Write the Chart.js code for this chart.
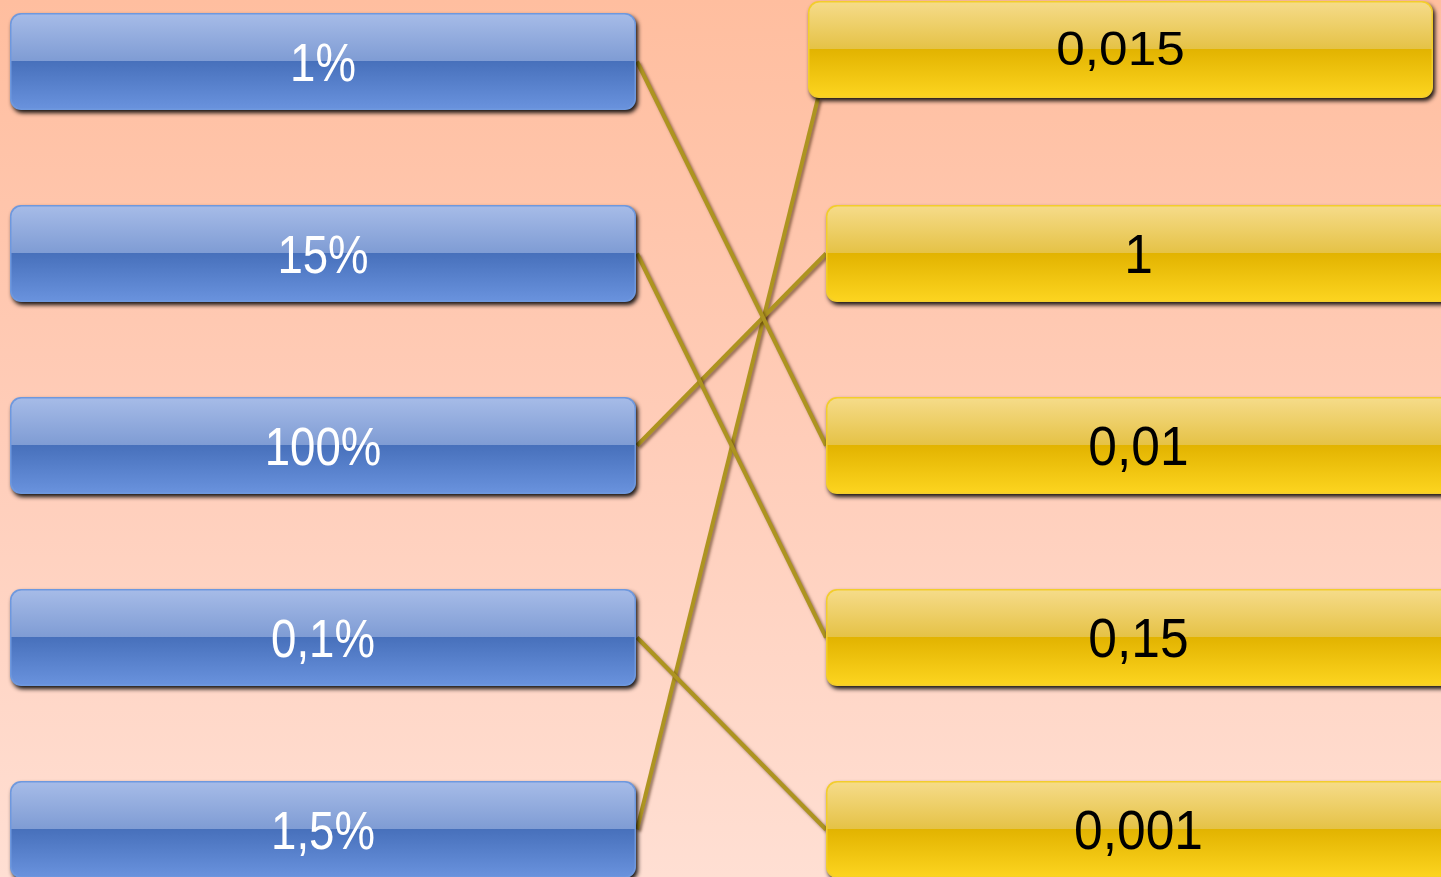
<!DOCTYPE html>
<html><head><meta charset="utf-8">
<style>
html,body{margin:0;padding:0;overflow:hidden;background:#ffd0bc}
#wrap{position:absolute;left:0;top:0;width:1441px;height:877px}
</style>
<script src="https://cdn.jsdelivr.net/npm/chart.js@4"></script>
</head><body><div id="wrap"><canvas id="c"></canvas></div>
<script>
// ---- data ----
const leftLabels  = ['1%', '15%', '100%', '0,1%', '1,5%'];
const rightLabels = ['0,015', '1', '0,01', '0,15', '0,001'];
const matches     = [2, 3, 1, 4, 0];   // right-hand index matched to each left-hand item

// ---- layout (pixels per row unit = 192) ----
const PX_PER_ROW = 192;
const layout = {
  leftX0: 10, leftX1: 636,
  rightX0: 826, rightX1: 1451,
  boxH: 97,
  lineLeftX: 637, lineRightX: 826,
  rightShift: [[-18, -12], [0, 0], [0, 0], [0, 0], [0, 0]],
  rightAnchor: [[818, 36.5], null, null, null, null]
};

const connectors = matches.map((j, i) => {
  const a = layout.rightAnchor[j];
  return {
    data: [
      { x: layout.lineLeftX, y: i },
      { x: a ? a[0] : layout.lineRightX, y: j + (a ? a[1] / PX_PER_ROW : 0) }
    ],
    showLine: true,
    borderColor: '#ad9420',
    borderWidth: 4,
    pointRadius: 0,
    fill: false
  };
});

function rr(ctx, x, y, w, h, r) {
  ctx.beginPath();
  ctx.moveTo(x + r, y);
  ctx.arcTo(x + w, y, x + w, y + h, r);
  ctx.arcTo(x + w, y + h, x, y + h, r);
  ctx.arcTo(x, y + h, x, y, r);
  ctx.arcTo(x, y, x + w, y, r);
  ctx.closePath();
}

const blue = { border: '#6e98de', t0: '#a7bce8', t1: '#7f9cd4', b0: '#4770bb', b1: '#6a93de' };
const gold = { border: '#f3cd2c', t0: '#f6dc8b', t1: '#e5c246', b0: '#e2b300', b1: '#fdd520' };

function drawBox(ctx, x0, y0, x1, y1, p) {
  const w = x1 - x0, h = y1 - y0, r = 11;
  ctx.save();
  ctx.shadowColor = 'rgba(0,0,0,0.9)';
  ctx.shadowOffsetX = 2; ctx.shadowOffsetY = 3; ctx.shadowBlur = 4;
  rr(ctx, x0, y0, w, h, r);
  ctx.fillStyle = p.border; ctx.fill();
  ctx.restore();
  ctx.save();
  rr(ctx, x0 + 1.5, y0 + 1.5, w - 3, h - 3, r - 1);
  ctx.clip();
  const mid = Math.round(y0 + h * 0.49);
  let g = ctx.createLinearGradient(0, y0, 0, mid);
  g.addColorStop(0, p.t0); g.addColorStop(1, p.t1);
  ctx.fillStyle = g; ctx.fillRect(x0, y0, w, mid - y0);
  g = ctx.createLinearGradient(0, mid, 0, y1);
  g.addColorStop(0, p.b0); g.addColorStop(1, p.b1);
  ctx.fillStyle = g; ctx.fillRect(x0, mid, w, y1 - mid);
  ctx.restore();
}

function drawText(ctx, txt, cx, baseY, size, sx, color) {
  ctx.save();
  ctx.translate(cx, baseY);
  ctx.scale(sx, 1);
  ctx.font = size + 'px "Liberation Sans", Arial, sans-serif';
  ctx.fillStyle = color;
  ctx.textAlign = 'center';
  ctx.textBaseline = 'alphabetic';
  ctx.fillText(txt, 0, 0);
  ctx.restore();
}

const bgPlugin = {
  id: 'bg',
  beforeDraw(chart) {
    const { ctx, width, height } = chart;
    const g = ctx.createLinearGradient(0, 0, 0, height);
    g.addColorStop(0, '#ffbe9f');
    g.addColorStop(0.5, '#ffcdb9');
    g.addColorStop(1, '#ffdfd3');
    ctx.save(); ctx.fillStyle = g; ctx.fillRect(0, 0, width, height); ctx.restore();
  },
  beforeDatasetsDraw(chart) {
    const ctx = chart.ctx;
    ctx.save();
    ctx.shadowColor = 'rgba(60,30,0,0.55)';
    ctx.shadowOffsetX = 2; ctx.shadowOffsetY = 2; ctx.shadowBlur = 3;
  },
  afterDatasetsDraw(chart) {
    const ctx = chart.ctx;
    ctx.restore();
    const xs = chart.scales.x, ys = chart.scales.y;
    const hh = layout.boxH / 2;
    leftLabels.forEach((lab, i) => {
      const cy = ys.getPixelForValue(i);
      const x0 = xs.getPixelForValue(layout.leftX0), x1 = xs.getPixelForValue(layout.leftX1);
      drawBox(ctx, x0, cy - hh, x1, cy + hh, blue);
      drawText(ctx, lab, (x0 + x1) / 2, cy + 19, 53, 0.86, '#ffffff');
    });
    rightLabels.forEach((lab, j) => {
      const sh = layout.rightShift[j];
      const cy = ys.getPixelForValue(j) + sh[1];
      const x0 = xs.getPixelForValue(layout.rightX0) + sh[0], x1 = xs.getPixelForValue(layout.rightX1) + sh[0];
      drawBox(ctx, x0, cy - hh, x1, cy + hh, gold);
      if (j === 0) drawText(ctx, lab, (x0 + x1) / 2, cy + 15, 47.5, 1.08, '#000000');
      else drawText(ctx, lab, (x0 + x1) / 2, cy + 19, 56, 0.92, '#000000');
    });
  }
};

new Chart(document.getElementById('c'), {
  type: 'scatter',
  data: { datasets: connectors },
  options: {
    responsive: true,
    maintainAspectRatio: false,
    animation: false,
    layout: { padding: 0 },
    plugins: { legend: { display: false }, tooltip: { enabled: false } },
    scales: {
      x: { type: 'linear', min: 0, max: 1441, display: false },
      y: { type: 'linear', min: -61.5 / PX_PER_ROW, max: (877 - 61.5) / PX_PER_ROW, reverse: true, display: false }
    }
  },
  plugins: [bgPlugin]
});
</script>
</body></html>
